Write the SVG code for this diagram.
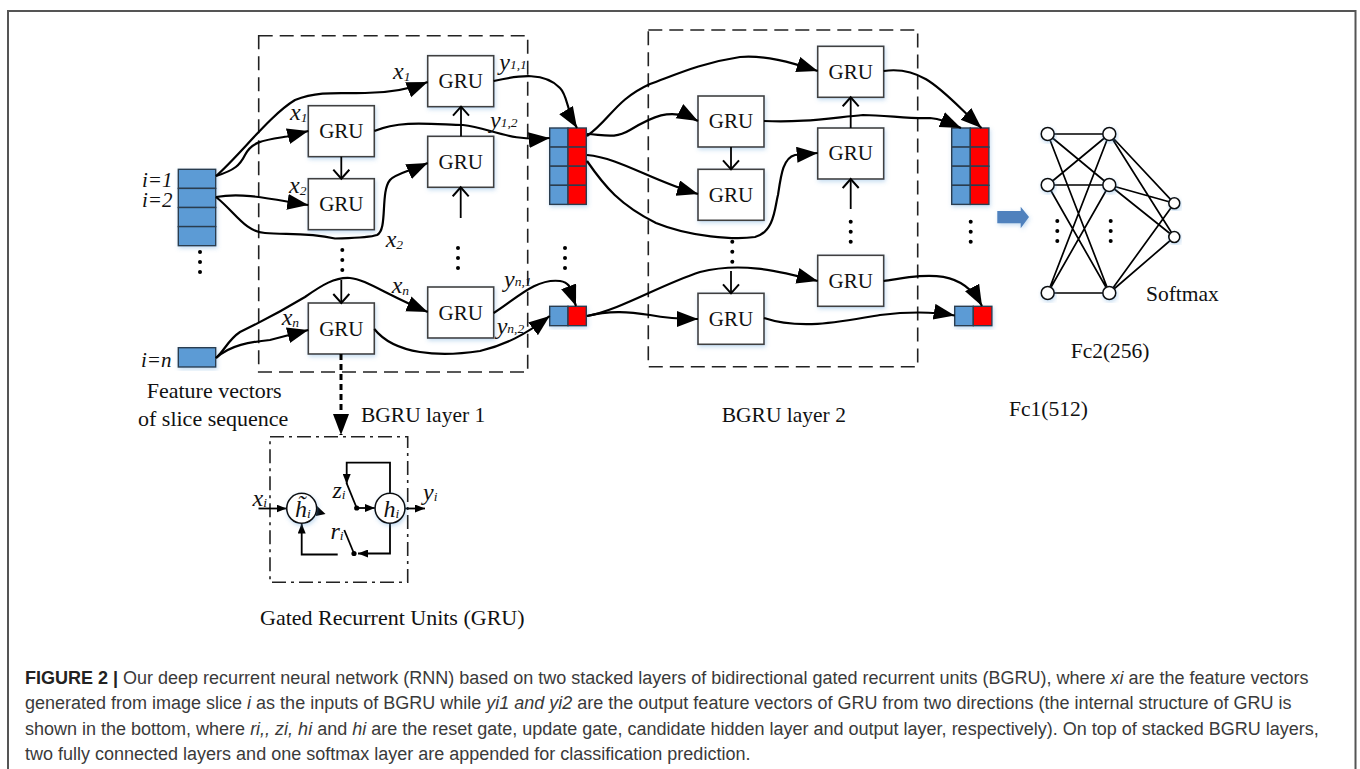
<svg xmlns="http://www.w3.org/2000/svg" width="1360" height="769" viewBox="0 0 1360 769">
<defs>
<filter id="sh" x="-20%" y="-20%" width="140%" height="140%"><feDropShadow dx="1" dy="2" stdDeviation="2" flood-color="#5b9bd5" flood-opacity="0.35"/></filter>
<marker id="big" markerUnits="userSpaceOnUse" markerWidth="22" markerHeight="17" refX="21" refY="8" orient="auto"><path d="M0,0 L21,8 L0,16 Z" fill="#000"/></marker>
<marker id="open" markerUnits="userSpaceOnUse" markerWidth="20" markerHeight="18" refX="16" refY="9" orient="auto"><path d="M7,1 L16,9 L7,17" fill="none" stroke="#000" stroke-width="2"/></marker>
<marker id="sm" markerUnits="userSpaceOnUse" markerWidth="11" markerHeight="8" refX="10" refY="4" orient="auto"><path d="M0,0 L10,4 L0,8 Z" fill="#000"/></marker>
</defs>
<style>
.frame{fill:#fff;stroke:#555;stroke-width:2}
.gru{fill:#fff;stroke:#404040;stroke-width:1.6;filter:url(#sh)}
.lbl{font-family:"Liberation Serif",serif;font-size:21.5px;fill:#111}
.wide{font-size:22px}
.gt{text-anchor:middle;font-size:21px}
.it{font-family:"Liberation Serif",serif;font-style:italic;font-size:21px;fill:#111}
.v{font-size:24px}
.sub{font-size:13.5px}
.blue{fill:#5b9bd5;stroke:#2c3e50;stroke-width:1.4}
.red{fill:#f00;stroke:#2c3e50;stroke-width:1.4}
.cv{fill:none;stroke:#000;stroke-width:2.2}
.st{fill:none;stroke:#000;stroke-width:1.8}
.thin{fill:none;stroke:#000;stroke-width:1.7}
.dash{fill:none;stroke:#222;stroke-width:1.6;stroke-dasharray:14 7}
.dd{fill:none;stroke:#222;stroke-width:1.6;stroke-dasharray:14 5 3 5}
.node{fill:#fff;stroke:#111;stroke-width:1.6;filter:url(#sh)}
.dot{fill:#000}
.cap{font-family:"Liberation Sans",sans-serif;font-size:18px;fill:#3a3a3a}
</style>
<rect class="frame" x="8" y="11" width="1347.5" height="800"/>
<g id="layer1-box"><rect class="dash" x="258.7" y="35.7" width="269" height="336.3"/></g>
<g id="layer2-box"><rect class="dash" x="648.3" y="30" width="269.4" height="336.7"/></g>
<g id="input-stack" filter="url(#sh)">
<rect class="blue" x="178.3" y="169.3" width="37.4" height="19.1"/><rect class="blue" x="178.3" y="188.4" width="37.4" height="19.1"/><rect class="blue" x="178.3" y="207.5" width="37.4" height="19.1"/><rect class="blue" x="178.3" y="226.6" width="37.4" height="19.1"/>
</g>
<g id="input-n" filter="url(#sh)"><rect class="blue" x="178.3" y="347.7" width="37.4" height="19.3"/></g>
<g id="concat1" filter="url(#sh)">
<rect class="blue" x="549.7" y="128" width="18.3" height="19.1"/><rect class="red" x="568" y="128" width="18.3" height="19.1"/>
<rect class="blue" x="549.7" y="147.1" width="18.3" height="19.1"/><rect class="red" x="568" y="147.1" width="18.3" height="19.1"/>
<rect class="blue" x="549.7" y="166.2" width="18.3" height="19.1"/><rect class="red" x="568" y="166.2" width="18.3" height="19.1"/>
<rect class="blue" x="549.7" y="185.3" width="18.3" height="19.1"/><rect class="red" x="568" y="185.3" width="18.3" height="19.1"/>
</g>
<g id="concat1n" filter="url(#sh)"><rect class="blue" x="549.7" y="306.3" width="18.3" height="19.4"/><rect class="red" x="568" y="306.3" width="18.3" height="19.4"/></g>
<g id="concat2" filter="url(#sh)">
<rect class="blue" x="951.7" y="128" width="18.6" height="19.1"/><rect class="red" x="970.3" y="128" width="18.6" height="19.1"/>
<rect class="blue" x="951.7" y="147.1" width="18.6" height="19.1"/><rect class="red" x="970.3" y="147.1" width="18.6" height="19.1"/>
<rect class="blue" x="951.7" y="166.2" width="18.6" height="19.1"/><rect class="red" x="970.3" y="166.2" width="18.6" height="19.1"/>
<rect class="blue" x="951.7" y="185.3" width="18.6" height="19.1"/><rect class="red" x="970.3" y="185.3" width="18.6" height="19.1"/>
</g>
<g id="concat2n" filter="url(#sh)"><rect class="blue" x="954.7" y="306.3" width="18.6" height="19.4"/><rect class="red" x="973.3" y="306.3" width="18.6" height="19.4"/></g>
<g id="gru-a"><rect class="gru" x="427.7" y="55.7" width="66" height="51"/><text class="lbl gt" x="460.7" y="88">GRU</text></g>
<g id="gru-b"><rect class="gru" x="308.3" y="105.7" width="66" height="51"/><text class="lbl gt" x="341.3" y="138">GRU</text></g>
<g id="gru-c"><rect class="gru" x="427.7" y="136.3" width="66" height="51"/><text class="lbl gt" x="460.7" y="168.5">GRU</text></g>
<g id="gru-d"><rect class="gru" x="308.3" y="178.7" width="66" height="51"/><text class="lbl gt" x="341.3" y="211">GRU</text></g>
<g id="gru-e"><rect class="gru" x="427.7" y="287" width="66" height="51"/><text class="lbl gt" x="460.7" y="319.5">GRU</text></g>
<g id="gru-f"><rect class="gru" x="308.3" y="303" width="66" height="51"/><text class="lbl gt" x="341.3" y="335.5">GRU</text></g>
<g id="gru-g"><rect class="gru" x="817.7" y="46.3" width="66" height="51"/><text class="lbl gt" x="850.7" y="78.5">GRU</text></g>
<g id="gru-h"><rect class="gru" x="698" y="96" width="66" height="51"/><text class="lbl gt" x="731" y="128">GRU</text></g>
<g id="gru-i"><rect class="gru" x="817.7" y="128" width="66" height="51"/><text class="lbl gt" x="850.7" y="160">GRU</text></g>
<g id="gru-j"><rect class="gru" x="698" y="169.3" width="66" height="51"/><text class="lbl gt" x="731" y="201.5">GRU</text></g>
<g id="gru-k"><rect class="gru" x="817.7" y="255.3" width="66" height="51"/><text class="lbl gt" x="850.7" y="287.5">GRU</text></g>
<g id="gru-l"><rect class="gru" x="698" y="293.3" width="66" height="51"/><text class="lbl gt" x="731" y="325.5">GRU</text></g>
<g id="connectors">
<path class="cv" marker-end="url(#big)" d="M216,176 C240,155 270,115 295,100 C320,90 345,94 365,93 C385,93 405,91 427.7,82"/>
<path class="cv" marker-end="url(#big)" d="M216,176 C235,170 240,165 245,155 C252,141 265,140 287,136.5 L308.3,131"/>
<path class="cv" marker-end="url(#big)" d="M216,197 C245,192 275,200 308.3,205"/>
<path class="cv" marker-end="url(#big)" d="M216,197 C235,212 245,232 265,233 C285,235 305,232 335,238.5 C350,238 368,238 377,235 C388,230 380,192 390,180 C395,174 410,171 427.7,163"/>
<path class="cv" marker-end="url(#big)" d="M216,358 C225,350 228,340 240,332 C265,320 280,312 305,297 C322,285 335,277 350,278 C365,279 385,294 427.7,312"/>
<path class="cv" marker-end="url(#big)" d="M216,358 C230,345 250,342 270,340 L308.3,330"/>
<path class="cv" marker-end="url(#big)" d="M493.7,81 C520,75 545,72 560,88 C568,96 566,110 577,128"/>
<path class="cv" marker-end="url(#big)" d="M374.3,131 C400,120 430,124 463,125 C490,128 510,142 549.7,138"/>
<path class="cv" marker-end="url(#big)" d="M493.7,313 C515,300 535,278 560,281 C572,283 570,290 576,306"/>
<path class="cv" marker-end="url(#big)" d="M374.3,329 C395,355 440,357 480,351 C505,345 525,335 549.7,316"/>
<path class="cv" marker-end="url(#big)" d="M587,136 C610,120 615,100 650,84 C675,75 700,63 740,57 C765,55 790,62 817.7,71"/>
<path class="cv" marker-end="url(#big)" d="M587,134 C605,135 615,139 630,130 C650,118 670,106 698,121"/>
<path class="cv" marker-end="url(#big)" d="M587,155 C620,158 650,180 698,194"/>
<path class="cv" marker-end="url(#big)" d="M587,161 C605,187 620,205 656,223 C690,237 735,240 755,237 C775,232 775,205 778,195 C781,175 783,158 795,155 L817.7,153"/>
<path class="cv" marker-end="url(#big)" d="M587,316 C620,310 660,285 700,272 C740,262 775,270 817.7,281"/>
<path class="cv" marker-end="url(#big)" d="M587,316 C610,310 630,312 650,315 C665,318 680,319 698,319"/>
<path class="cv" marker-end="url(#big)" d="M883.7,71 C925,65 945,95 981.5,128"/>
<path class="cv" marker-end="url(#big)" d="M764,121 C800,123 830,118 863,115 C885,115 910,119 930,118 C940,119 945,121 961,128"/>
<path class="cv" marker-end="url(#big)" d="M883.7,281 C920,276 960,265 982,306"/>
<path class="cv" marker-end="url(#big)" d="M764,318 C800,330 840,322 880,315 C905,312 930,311 954.7,315.5"/>
<path class="st" marker-end="url(#open)" d="M341.3,156.7 V178.7"/>
<path class="st" marker-end="url(#open)" d="M461,136.3 V106.7"/>
<path class="st" marker-end="url(#open)" d="M460.7,218 V187.3"/>
<path class="st" marker-end="url(#open)" d="M341.3,280 V303"/>
<path class="st" marker-end="url(#open)" d="M731,147 V169.3"/>
<path class="st" marker-end="url(#open)" d="M850.7,128 V97.3"/>
<path class="st" marker-end="url(#open)" d="M850.7,209 V179"/>
<path class="st" marker-end="url(#open)" d="M731,271 V293.3"/>
<path fill="none" stroke="#000" stroke-width="3" stroke-dasharray="6 4" marker-end="url(#big)" d="M341,354 V435"/>
</g>
<g id="dots">
<circle class="dot" cx="200" cy="252" r="2"/><circle class="dot" cx="200" cy="262" r="2"/><circle class="dot" cx="200" cy="272" r="2"/>
<circle class="dot" cx="342.3" cy="250" r="2"/><circle class="dot" cx="342.3" cy="260" r="2"/><circle class="dot" cx="342.3" cy="270" r="2"/>
<circle class="dot" cx="458" cy="248" r="2"/><circle class="dot" cx="458" cy="258" r="2"/><circle class="dot" cx="458" cy="268" r="2"/>
<circle class="dot" cx="565" cy="248" r="2"/><circle class="dot" cx="565" cy="258" r="2"/><circle class="dot" cx="565" cy="268" r="2"/>
<circle class="dot" cx="732.3" cy="241.7" r="2"/><circle class="dot" cx="732.3" cy="251.7" r="2"/><circle class="dot" cx="732.3" cy="261.7" r="2"/>
<circle class="dot" cx="850.7" cy="221.7" r="2"/><circle class="dot" cx="850.7" cy="231.7" r="2"/><circle class="dot" cx="850.7" cy="241.7" r="2"/>
<circle class="dot" cx="970.7" cy="221.7" r="2"/><circle class="dot" cx="970.7" cy="231.7" r="2"/><circle class="dot" cx="970.7" cy="241.7" r="2"/>
<circle class="dot" cx="1057.3" cy="221" r="2"/><circle class="dot" cx="1057.3" cy="231" r="2"/><circle class="dot" cx="1057.3" cy="241" r="2"/>
<circle class="dot" cx="1110.7" cy="221" r="2"/><circle class="dot" cx="1110.7" cy="231" r="2"/><circle class="dot" cx="1110.7" cy="241" r="2"/>
</g>
<g id="labels">
<text class="it" x="142" y="187">i=1</text><text class="it" x="142" y="206.5">i=2</text><text class="it" x="141" y="367">i=n</text>
<text class="it v" x="393" y="79">x<tspan class="sub" dy="2">1</tspan></text>
<text class="it v" x="290" y="120">x<tspan class="sub" dy="2">1</tspan></text>
<text class="it v" x="289" y="193">x<tspan class="sub" dy="2">2</tspan></text>
<text class="it v" x="385.7" y="247">x<tspan class="sub" dy="2">2</tspan></text>
<text class="it v" x="391.7" y="292.7">x<tspan class="sub" dy="2">n</tspan></text>
<text class="it v" x="281.7" y="325">x<tspan class="sub" dy="2">n</tspan></text>
<text class="it v" x="499.3" y="70">y<tspan class="sub" dy="-1">1,1</tspan></text>
<text class="it v" x="490" y="128">y<tspan class="sub" dy="-1">1,2</tspan></text>
<text class="it v" x="504" y="287">y<tspan class="sub" dy="-1">n,1</tspan></text>
<text class="it v" x="496.7" y="334">y<tspan class="sub" dy="-1">n,2</tspan></text>
<text class="lbl wide" x="146.7" y="398">Feature vectors</text>
<text class="lbl wide" x="138" y="426">of slice sequence</text>
<text class="lbl" x="361" y="422">BGRU layer 1</text>
<text class="lbl" x="721.7" y="422">BGRU layer 2</text>
<text class="lbl wide" x="260" y="625">Gated Recurrent Units (GRU)</text>
<text class="lbl" x="1146" y="301">Softmax</text>
<text class="lbl" x="1070.7" y="358">Fc2(256)</text>
<text class="lbl" x="1009" y="416">Fc1(512)</text>
</g>
<g id="arrow-right"><path d="M997.3,211 H1020.7 V206.7 L1029,217 L1020.7,228.3 V223.3 H997.3 Z" fill="#4f81bd" filter="url(#sh)"/></g>
<g id="nn-links">
<path class="thin" d="M1047.7,134 H1109.3 M1047.7,134 L1109.3,185 M1047.7,134 L1109.3,293 M1047.7,185 L1109.3,134 M1047.7,185 H1109.3 M1047.7,185 L1109.3,293 M1047.7,293 L1109.3,134 M1047.7,293 L1109.3,185 M1047.7,293 H1109.3 M1109.3,134 L1174.3,203.3 M1109.3,134 L1174.3,237 M1109.3,185 L1174.3,203.3 M1109.3,185 L1174.3,237 M1109.3,293 L1174.3,203.3 M1109.3,293 L1174.3,237"/>
</g>
<g id="nn-1"><circle class="node" cx="1047.7" cy="134" r="6.5"/></g>
<g id="nn-2"><circle class="node" cx="1047.7" cy="185" r="6.5"/></g>
<g id="nn-3"><circle class="node" cx="1047.7" cy="293" r="6.5"/></g>
<g id="nn-4"><circle class="node" cx="1109.3" cy="134" r="6.5"/></g>
<g id="nn-5"><circle class="node" cx="1109.3" cy="185" r="6.5"/></g>
<g id="nn-6"><circle class="node" cx="1109.3" cy="293" r="6.5"/></g>
<g id="nn-7"><circle class="node" cx="1174.3" cy="203.3" r="5.5"/></g>
<g id="nn-8"><circle class="node" cx="1174.3" cy="237" r="5.5"/></g>
<g id="gru-detail">
<rect class="dd" x="270" y="436.7" width="137.7" height="145.6"/>
<g id="gate-connectors">
<path class="st" marker-end="url(#sm)" d="M258.5,508.5 H286.5"/>
<path class="st" marker-end="url(#sm)" d="M405,508.5 H425"/>
<path class="st" marker-end="url(#sm)" d="M390,493 V462.7 H346.7 V484"/>
<path class="st" d="M346.7,483.3 L356.7,508"/>
<path class="st" marker-end="url(#sm)" d="M356.7,508 H375"/>
<path class="st" marker-end="url(#sm)" d="M390,523.5 V553.5 H358"/>
<path class="st" d="M344.3,530 L354,553.5"/>
<path class="st" marker-end="url(#sm)" d="M337.7,554.5 H301.7 V523.5"/>
<path class="dot" d="M316,505 L325.5,514 L316,516 L314,511 Z"/>
<circle class="dot" cx="356.7" cy="508" r="2.6"/><circle class="dot" cx="354" cy="553.5" r="2.6"/>
</g>
<g id="h-cand"><circle class="node" cx="301.7" cy="508.3" r="15"/><text class="it v" x="295" y="516.5">h&#771;<tspan class="sub" dy="1">i</tspan></text></g>
<g id="h-out"><circle class="node" cx="390" cy="508.3" r="15"/><text class="it v" x="383.5" y="516.5">h<tspan class="sub" dy="1">i</tspan></text></g>
<text class="it v" x="252.5" y="506">x<tspan class="sub" dy="1">i</tspan></text>
<text class="it v" x="423" y="500">y<tspan class="sub" dy="1">i</tspan></text>
<text class="it v" x="332.5" y="498">z<tspan class="sub" dy="1">i</tspan></text>
<text class="it v" x="330.5" y="539">r<tspan class="sub" dy="1">i</tspan></text>
</g>
<g id="caption">
<text class="cap" x="25" y="684"><tspan font-weight="700" fill="#222">FIGURE 2 |</tspan> Our deep recurrent neural network (RNN) based on two stacked layers of bidirectional gated recurrent units (BGRU), where <tspan font-style="italic">xi</tspan> are the feature vectors</text>
<text class="cap" x="25" y="709">generated from image slice <tspan font-style="italic">i</tspan> as the inputs of BGRU while <tspan font-style="italic">yi1 and yi2</tspan> are the output feature vectors of GRU from two directions (the internal structure of GRU is</text>
<text class="cap" x="25" y="735">shown in the bottom, where <tspan font-style="italic">ri,, zi, hi</tspan> and <tspan font-style="italic">hi</tspan> are the reset gate, update gate, candidate hidden layer and output layer, respectively). On top of stacked BGRU layers,</text>
<text class="cap" x="25" y="760">two fully connected layers and one softmax layer are appended for classification prediction.</text>
</g>
</svg>
